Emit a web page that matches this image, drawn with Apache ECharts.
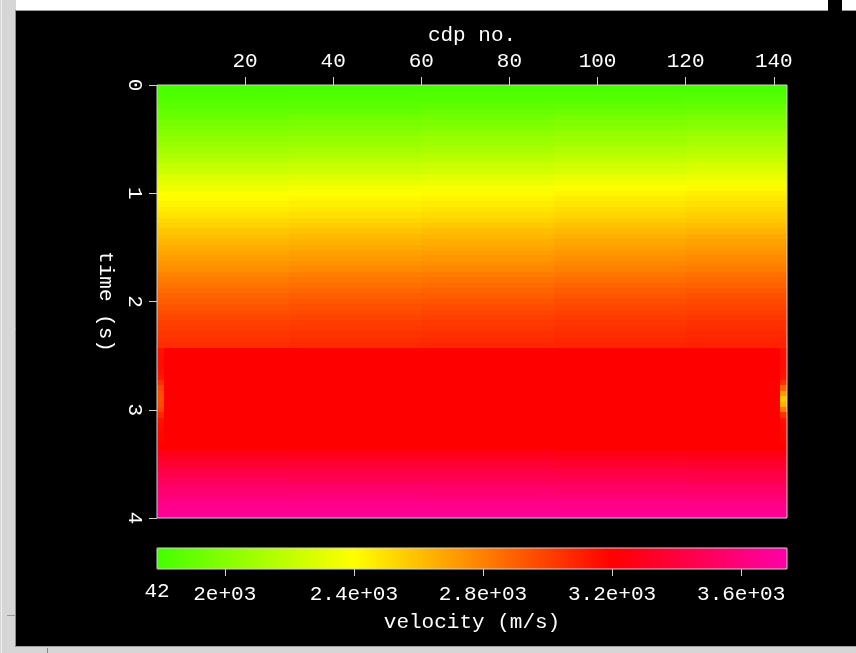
<!DOCTYPE html>
<html><head><meta charset="utf-8">
<script src="https://cdn.jsdelivr.net/npm/echarts@6/dist/echarts.min.js"></script>
<style>html,body{margin:0;padding:0;background:#000;}#c{width:856px;height:653px;}</style>
</head><body><div id="c"></div>
<script>
// time samples (s), every 0.05 s
const times = [0.00,0.05,0.10,0.15,0.20,0.25,0.30,0.35,0.40,0.45,0.50,0.55,0.60,0.65,0.70,0.75,0.80,0.85,0.90,0.95,
               1.00,1.05,1.10,1.15,1.20,1.25,1.30,1.35,1.40,1.45,1.50,1.55,1.60,1.65,1.70,1.75,1.80,1.85,1.90,1.95,
               2.00,2.05,2.10,2.15,2.20,2.25,2.30,2.35,2.40,2.45,2.50,2.55,2.60,2.65,2.70,2.75,2.80,2.85,2.90,2.95,
               3.00,3.05,3.10,3.15,3.20,3.25,3.30,3.35,3.40,3.45,3.50,3.55,3.60,3.65,3.70,3.75,3.80,3.85,3.90,3.95,4.00];
// cdp column boundaries (edge column, five interior columns, edge column)
const cdpBounds = [0, 1.5, 30, 60, 90, 120, 141.5, 143];

// velocity (m/s) for each interior column, one value per time sample
const velCol1 = [1800,1810,1826,1845,1868,1895,1922,1950,1978,2007,2037,2066,2096,2130,2165,2200,2235,2275,2315,2352,
                 2385,2411,2435,2460,2485,2515,2545,2575,2605,2630,2655,2680,2705,2730,2755,2785,2815,2840,2865,2890,
                 2915,2936,2957,2978,2998,3014,3030,3046,3062,
                 3200,3200,3200,3200,3200,3200,3200,3200,3200,3200,3200,3200,3200,3200,3200,3200,3200,3200,3200,
                 3275,3320,3365,3405,3445,3485,3525,3560,3595,3625,3655,3685,3715];
const velCol2 = [1800,1811,1828,1849,1874,1902,1931,1960,1989,2018,2048,2078,2108,2142,2177,2212,2247,2287,2327,2365,
                 2397,2423,2447,2472,2497,2527,2557,2587,2617,2642,2667,2692,2717,2742,2767,2797,2827,2852,2877,2902,
                 2927,2948,2968,2989,3009,3025,3040,3056,3071,
                 3200,3200,3200,3200,3200,3200,3200,3200,3200,3200,3200,3200,3200,3200,3200,3200,3200,3200,3200,
                 3272,3317,3362,3402,3442,3482,3522,3557,3592,3622,3652,3682,3712];
const velCol3 = [1800,1812,1830,1853,1880,1910,1940,1970,2000,2030,2060,2090,2120,2155,2190,2225,2260,2300,2340,2378,
                 2410,2436,2460,2485,2510,2540,2570,2600,2630,2655,2680,2705,2730,2755,2780,2810,2840,2865,2890,2915,
                 2940,2960,2980,3000,3020,3035,3050,3065,3080,
                 3200,3200,3200,3200,3200,3200,3200,3200,3200,3200,3200,3200,3200,3200,3200,3200,3200,3200,3200,
                 3270,3315,3360,3400,3440,3480,3520,3555,3590,3620,3650,3680,3710];
const velCol4 = [1800,1814,1834,1859,1888,1920,1952,1984,2016,2048,2079,2110,2140,2175,2210,2245,2280,2320,2360,2398,
                 2430,2456,2480,2505,2530,2560,2590,2620,2650,2675,2700,2725,2750,2775,2800,2830,2860,2885,2910,2935,
                 2958,2978,2997,3016,3034,3048,3062,3076,3089,
                 3200,3200,3200,3200,3200,3200,3200,3200,3200,3200,3200,3200,3200,3200,3200,3200,3200,3200,3200,
                 3262,3307,3352,3392,3432,3472,3512,3547,3582,3612,3643,3674,3706];
const velCol5 = [1802,1817,1838,1865,1895,1929,1963,1997,2031,2064,2096,2127,2157,2192,2227,2262,2297,2337,2377,2415,
                 2446,2472,2496,2521,2546,2576,2606,2636,2666,2691,2716,2741,2766,2791,2816,2845,2875,2900,2925,2950,
                 2972,2991,3010,3028,3046,3059,3072,3084,3096,
                 3200,3200,3200,3200,3200,3200,3200,3200,3200,3200,3200,3200,3200,3200,3200,3200,3200,3200,3200,
                 3255,3298,3342,3382,3422,3462,3503,3540,3576,3608,3640,3672,3705];
// edge columns inside the 2.45–3.35 s block (elsewhere they follow the neighbouring column)
const blockStart = 49, blockLen = 19;
const edgeLeftBlock  = [3140,3150,3155,3160,3150,3120,3060,2990,2960,2950,2960,3000,3080,3150,3165,3175,3180,3190,3200];
const edgeRightBlock = [3140,3150,3155,3160,3150,3130,3050,2900,2720,2580,2640,2820,3050,3150,3165,3170,3180,3185,3200];
const velEdgeLeft  = velCol1.slice(0, blockStart).concat(edgeLeftBlock,  velCol1.slice(blockStart + blockLen));
const velEdgeRight = velCol5.slice(0, blockStart).concat(edgeRightBlock, velCol5.slice(blockStart + blockLen));
const columns = [velEdgeLeft, velCol1, velCol2, velCol3, velCol4, velCol5, velEdgeRight];

const xTicks = [20, 40, 60, 80, 100, 120, 140];
const cbTicks = [2000, 2400, 2800, 3200, 3600];
const vMin = 1790, vMax = 3742;
// colour scale anchors: green -> yellow -> red -> magenta
const colorAnchors = [[1790, [68, 255, 0]], [2400, [255, 255, 0]], [3200, [255, 0, 0]], [3742, [255, 0, 168]]];

const FONT = 'Liberation Mono';
const FS = 21;

// fine colour list for the visualMap built from the anchors
const colormap = [];
const NSTOP = 400;
for (let i = 0; i <= NSTOP; i++) {
  const v = vMin + (vMax - vMin) * i / NSTOP;
  let k = 0;
  while (k < colorAnchors.length - 2 && v > colorAnchors[k + 1][0]) k++;
  const [va, ca] = colorAnchors[k], [vb, cb] = colorAnchors[k + 1];
  const f = Math.max(0, Math.min(1, (v - va) / (vb - va)));
  const c = ca.map((x, j) => Math.round(x + (cb[j] - x) * f));
  colormap.push('rgb(' + c.join(',') + ')');
}

const cells = [];
columns.forEach((col, ci) => {
  col.forEach((v, ti) => {
    const t0 = ti === 0 ? times[0] : (times[ti - 1] + times[ti]) / 2;
    const t1 = ti === times.length - 1 ? times[ti] : (times[ti] + times[ti + 1]) / 2;
    cells.push([cdpBounds[ci], cdpBounds[ci + 1], t0, t1, v]);
  });
});

const txt = {color: '#fff', fontFamily: FONT, fontSize: FS};
const chart = echarts.init(document.getElementById('c'), null, {renderer: 'canvas'});
chart.setOption({
  backgroundColor: '#000',
  animation: false,
  grid: [
    {left: 157, top: 85, width: 630, height: 433, show: true, borderColor: '#d0d0d0', borderWidth: 1, backgroundColor: 'transparent', z: 10},
    {left: 157, top: 548, width: 630, height: 21, show: true, borderColor: '#d0d0d0', borderWidth: 1, backgroundColor: 'transparent', z: 10}
  ],
  xAxis: [
    {gridIndex: 0, type: 'value', position: 'top', min: 0, max: 143,
     name: 'cdp no.', nameLocation: 'middle', nameGap: 38, nameTextStyle: txt,
     axisLine: {show: false},
     axisTick: {show: true, customValues: xTicks, length: 8, lineStyle: {color: '#d0d0d0'}},
     axisLabel: {customValues: xTicks, margin: 13, ...txt},
     splitLine: {show: false}},
    {gridIndex: 1, type: 'value', position: 'bottom', min: vMin, max: vMax,
     name: 'velocity (m/s)', nameLocation: 'middle', nameGap: 43, nameTextStyle: txt,
     axisLine: {show: false},
     axisTick: {show: true, customValues: cbTicks, length: 7, lineStyle: {color: '#d0d0d0'}},
     axisLabel: {customValues: cbTicks, margin: 15, ...txt,
       formatter: v => (+(v / 1000).toFixed(2)) + 'e+03'},
     splitLine: {show: false}}
  ],
  yAxis: [
    {gridIndex: 0, type: 'value', inverse: true, min: 0, max: 4, interval: 1,
     name: 'time (s)', nameLocation: 'middle', nameGap: 34, nameRotate: -90, nameTextStyle: txt,
     axisLine: {show: false},
     axisTick: {show: true, length: 8, lineStyle: {color: '#d0d0d0'}},
     axisLabel: {rotate: -90, margin: 12, ...txt},
     splitLine: {show: false}},
    {gridIndex: 1, type: 'value', min: 0, max: 1, show: false}
  ],
  visualMap: {
    type: 'continuous', min: vMin, max: vMax, dimension: 4, seriesIndex: 0,
    orient: 'horizontal', left: 157, top: 548, itemWidth: 21, itemHeight: 630,
    padding: 0, calculable: false, hoverLink: false, showLabel: false,
    inRange: {color: colormap}
  },
  graphic: [
    {type: 'rect', shape: {x: 0, y: 0, width: 856, height: 10}, style: {fill: '#ffffff'}, z: 100},
    {type: 'line', shape: {x1: 16, y1: 10.5, x2: 856, y2: 10.5}, style: {stroke: '#9a9a9a', lineWidth: 1}, z: 100},
    {type: 'rect', shape: {x: 828, y: 0, width: 14, height: 11}, style: {fill: '#000'}, z: 101},
    {type: 'rect', shape: {x: 0, y: 0, width: 16, height: 653}, style: {fill: '#d6d6d6'}, z: 100},
    {type: 'line', shape: {x1: 1.5, y1: 0, x2: 1.5, y2: 653}, style: {stroke: '#efefef', lineWidth: 1}, z: 101},
    {type: 'line', shape: {x1: 15.5, y1: 10, x2: 15.5, y2: 647}, style: {stroke: '#8c8c8c', lineWidth: 1}, z: 101},
    {type: 'line', shape: {x1: 7, y1: 615.5, x2: 16, y2: 615.5}, style: {stroke: '#999', lineWidth: 1}, z: 101},
    {type: 'rect', shape: {x: 0, y: 646, width: 856, height: 7}, style: {fill: '#d6d6d6'}, z: 100},
    {type: 'line', shape: {x1: 16, y1: 646.5, x2: 856, y2: 646.5}, style: {stroke: '#a0a0a0', lineWidth: 1}, z: 101},
    {type: 'line', shape: {x1: 47.5, y1: 648, x2: 47.5, y2: 653}, style: {stroke: '#888', lineWidth: 1}, z: 101},
    {type: 'text', x: 157, y: 591, style: {text: '42', fill: '#fff', font: FS + 'px "' + FONT + '"', align: 'center', verticalAlign: 'middle'}, z: 100}
  ],
  series: [{
    type: 'custom', xAxisIndex: 0, yAxisIndex: 0, silent: true, clip: true,
    encode: {x: [0, 1], y: [2, 3]},
    renderItem: function (params, api) {
      const a = api.coord([api.value(0), api.value(2)]);
      const b = api.coord([api.value(1), api.value(3)]);
      const x0 = Math.round(Math.min(a[0], b[0])), x1 = Math.round(Math.max(a[0], b[0]));
      const y0 = Math.round(Math.min(a[1], b[1])), y1 = Math.round(Math.max(a[1], b[1]));
      return {type: 'rect', shape: {x: x0, y: y0, width: x1 - x0, height: y1 - y0},
              style: {fill: api.visual('color')}};
    },
    data: cells
  }]
});
</script></body></html>
